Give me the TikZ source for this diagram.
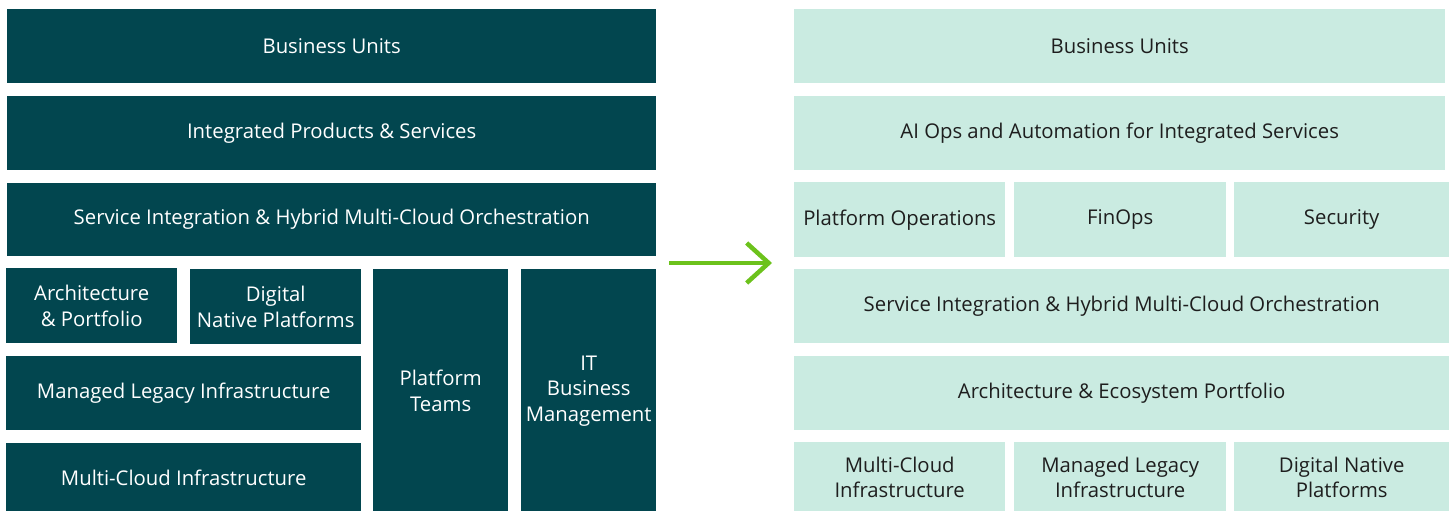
\documentclass[tikz,border=0pt]{standalone}
\usepackage{fontspec}
\setmainfont{Open Sans}
\usetikzlibrary{arrows.meta}
\definecolor{deepteal}{HTML}{02464F}
\definecolor{mint}{HTML}{CAEBE1}
\definecolor{inkdark}{HTML}{1E1E1E}
\definecolor{leafgreen}{HTML}{6CC21C}
\tikzset{
  box/.style={rectangle, inner sep=0pt, anchor=north west, align=center,
    font=\fontsize{20.3}{25.5}\selectfont},
  oldbox/.style={box, fill=deepteal, text=white},
  newbox/.style={box, fill=mint, text=inkdark},
  shift arrow/.style={draw=leafgreen, line width=4.5pt,
    -{Straight Barb[length=22pt,width=40pt,line width=4.5pt]}}
}
% \blk{style}{name}{x1}{y1}{x2}{y2}{text}
\newcommand\blk[7]{%
  \node[#1, minimum width=#5-#3, minimum height=#6-#4] (#2) at (#3,#4) {#7};}
\begin{document}
\begin{tikzpicture}[x=1pt,y=-1pt]
\useasboundingbox (0,0) rectangle (1449,511);
% current operating model
\blk{oldbox}{bu}{7}{9}{656}{83}{Business Units}
\blk{oldbox}{ips}{7}{96}{656}{170}{Integrated Products \& Services}
\blk{oldbox}{sio}{7}{183}{656}{256}{Service Integration \& Hybrid Multi-Cloud Orchestration}
\blk{oldbox}{arch}{6}{268}{177}{343}{Architecture\\\& Portfolio}
\blk{oldbox}{dnp}{190}{269}{361}{344}{Digital\\Native Platforms}
\blk{oldbox}{mli}{6}{356}{361}{430}{Managed Legacy Infrastructure}
\blk{oldbox}{mci}{6}{443}{361}{512}{Multi-Cloud Infrastructure}
\blk{oldbox}{pt}{373}{269}{508}{512}{Platform\\Teams}
\blk{oldbox}{itbm}{521}{269}{656}{512}{IT\\Business\\Management}
% target operating model
\blk{newbox}{nbu}{794}{9}{1445}{83}{Business Units}
\blk{newbox}{aiops}{794}{96}{1445}{170}{AI Ops and Automation for Integrated Services}
\blk{newbox}{pops}{794}{182}{1005}{257}{Platform Operations}
\blk{newbox}{finops}{1014}{182}{1226}{257}{FinOps}
\blk{newbox}{sec}{1234}{182}{1449}{257}{Security}
\blk{newbox}{nsio}{794}{269}{1449}{343}{Service Integration \& Hybrid Multi-Cloud Orchestration}
\blk{newbox}{aep}{794}{356}{1449}{430}{Architecture \& Ecosystem Portfolio}
\blk{newbox}{nmci}{794}{442}{1005}{512}{Multi-Cloud\\Infrastructure}
\blk{newbox}{nmli}{1014}{442}{1226}{512}{Managed Legacy\\Infrastructure}
\blk{newbox}{ndnp}{1234}{442}{1449}{512}{Digital Native\\Platforms}
% transition arrow
\coordinate (from) at (669,263);
\coordinate (to) at (772,263);
\draw[shift arrow] (from) -- (to);
\end{tikzpicture}
\end{document}
